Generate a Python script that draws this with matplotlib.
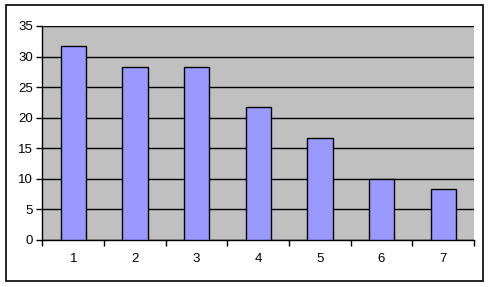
import matplotlib
matplotlib.use("Agg")
import matplotlib.pyplot as plt
from matplotlib.patches import Rectangle
import numpy as np

categories = ["1", "2", "3", "4", "5", "6", "7"]
values = [31.7, 28.3, 28.3, 21.8, 16.7, 10.0, 8.3]
yticks = [0, 5, 10, 15, 20, 25, 30, 35]

plt.rcParams['font.family'] = ['Liberation Sans', 'DejaVu Sans']
W, H = 489, 287
fig = plt.figure(figsize=(W/100, H/100), dpi=100)
fig.patch.set_facecolor('white')
fig.add_artist(Rectangle((6/W, 1 - 281/H), (483-6)/W, (281-5)/H, transform=fig.transFigure,
                         fill=False, edgecolor='black', linewidth=1.2))

ax = fig.add_axes([42.5/W, 1 - 240/H, (474-42.5)/W, (240-26)/H])
ax.set_facecolor('#C0C0C0')
x = np.arange(len(categories))
ax.bar(x, values, width=0.41, color='#9999FF', edgecolor='black', linewidth=1.0, zorder=3)
ax.set_xlim(-0.5, len(categories) - 0.5)
ax.set_ylim(0, 35)
ax.set_yticks(yticks)
ax.set_yticklabels([str(v) for v in yticks], fontsize=9.5)
ax.yaxis.grid(True, color='black', linewidth=1.0, zorder=1)
ax.set_axisbelow(True)
ax.set_xticks(x)
ax.set_xticklabels(categories, fontsize=9.5)
ax.tick_params(axis='x', length=0, pad=9)
ax.set_xticks(np.arange(-0.5, len(categories)), minor=True)
ax.tick_params(axis='x', which='minor', length=4, width=1, direction='out')
ax.tick_params(axis='y', length=4, width=1, direction='out', pad=3)
for s in ['top', 'right']:
    ax.spines[s].set_visible(False)
for s in ['left', 'bottom']:
    ax.spines[s].set_linewidth(1.0)

fig.savefig('out.png', dpi=100)
